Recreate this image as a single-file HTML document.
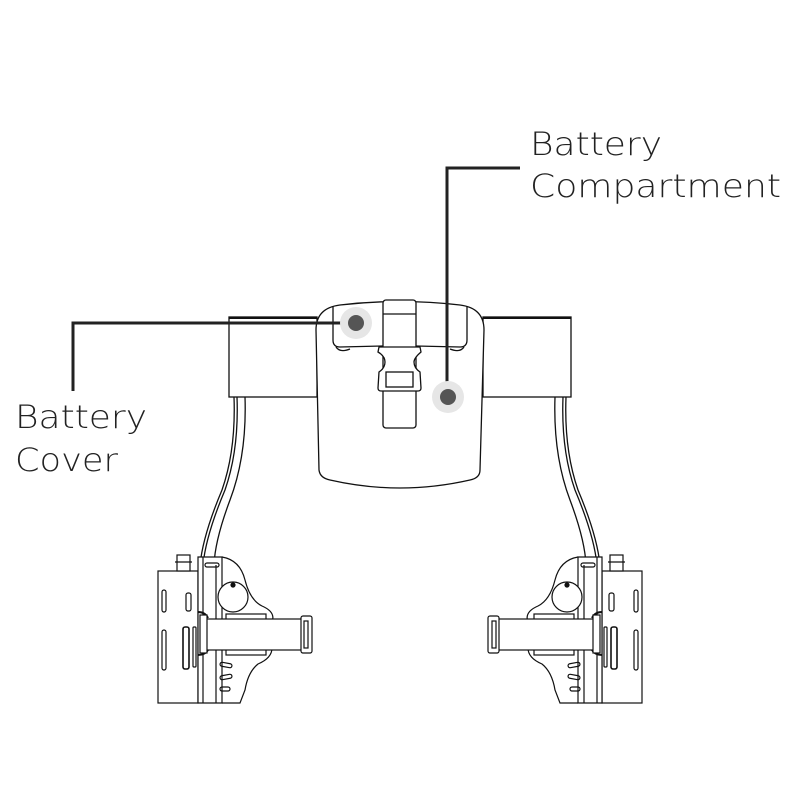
<!DOCTYPE html>
<html><head><meta charset="utf-8"><style>
html,body{margin:0;padding:0;background:#fff;}
svg{display:block}
text{font-family:"DejaVu Sans","Liberation Sans",sans-serif;font-weight:200;fill:#222;font-size:32px}
</style></head><body>
<svg width="800" height="800" viewBox="0 0 800 800" xmlns="http://www.w3.org/2000/svg">
<g fill="none" stroke="#111" stroke-width="1.3">
  <!-- belt side boxes -->
  <rect x="229" y="317" width="88" height="80" fill="#fff"/>
  <rect x="483" y="317" width="88" height="80" fill="#fff"/>
  <line x1="229" y1="318" x2="317" y2="318" stroke-width="2"/>
  <line x1="483" y1="318" x2="571" y2="318" stroke-width="2"/>
  <!-- cover -->
  <path d="M316,330 Q316,308 340,305 Q400,298 460,305 Q484,308 484,330 L480,470 Q480,478 470,480 Q400,496 330,480 Q320,478 319,470 Z" fill="#fff"/>
  <path d="M333,306 L333,340 Q333,347 340,347 L383,346 M416,346 L460,347 Q467,347 467,340 L467,306"/>
  <path d="M336,347 Q340,353 350,349 M464,347 Q460,353 450,349"/>
  <!-- strap -->
  <rect x="383" y="300" width="33" height="128" rx="3" fill="#fff"/>
  <line x1="383" y1="314" x2="416" y2="314"/>
  <path d="M379,347 L420,347 L421,352 Q414,358 414,362 Q414,368 420,372 L421,388 Q421,391 418,391 L381,391 Q378,391 378,388 L379,372 Q385,368 385,362 Q385,356 378,352 Z" fill="#fff"/>
  <rect x="386" y="372" width="27" height="15"/>
  <!-- legs left -->
  <path d="M234,397 Q236,450 222,490 Q203,535 200,565"/>
  <path d="M237,397 Q239,450 225,490 Q206,535 203,565"/>
  <path d="M245,397 Q247,455 230,500 Q215,540 214,565"/>
  <!-- legs right -->
  <path d="M566,397 Q564,450 578,490 Q597,535 600,565"/>
  <path d="M563,397 Q561,450 575,490 Q594,535 597,565"/>
  <path d="M555,397 Q553,455 570,500 Q585,540 586,565"/>
</g>
<!-- modules -->
<g id="mod" fill="none" stroke="#111" stroke-width="1.2">
  <rect x="158" y="571" width="40" height="132" fill="#fff"/>
  <rect x="177" y="555" width="13" height="16" fill="#fff"/>
  <line x1="175" y1="562" x2="192" y2="562"/>
  <rect x="162" y="590" width="4" height="22" rx="2"/>
  <rect x="162" y="630" width="4" height="40" rx="2"/>
  <rect x="186" y="593" width="5" height="18" rx="2"/>
  <rect x="183" y="627" width="6" height="42" rx="2" stroke-width="1.6"/>
  <rect x="193" y="627" width="3" height="40" rx="1"/>
  <path d="M198,557 L222,557 L222,703 L198,703 Z" fill="#fff"/>
  <path d="M203,557 L203,703 M216,565 L216,703"/>
  <rect x="205" y="563" width="14" height="4" rx="2"/>
  <path d="M222,557 Q240,560 245,580 Q250,600 262,606 Q276,612 272,622 L272,648 Q272,658 258,664 Q248,672 245,690 L240,703 L222,703"/>
  <circle cx="233" cy="597" r="15" fill="#fff"/>
  <circle cx="233" cy="585" r="2" fill="#111"/>
  <rect x="220" y="663" width="12" height="4" rx="2" transform="rotate(10 226 665)"/>
  <rect x="220" y="675" width="12" height="4" rx="2" transform="rotate(-10 226 677)"/>
  <rect x="220" y="687" width="10" height="4" rx="2"/>
  <rect x="226" y="614" width="40" height="6" fill="#fff"/>
  <rect x="226" y="649" width="40" height="6" fill="#fff"/>
  <path d="M198,612 Q205,612 208,618 M198,655 Q205,655 208,650" stroke-width="2"/>
  <rect x="206" y="619" width="98" height="31" fill="#fff"/>
  <rect x="301" y="616" width="11" height="37" rx="2" fill="#fff"/>
  <rect x="304" y="621" width="4" height="27"/>
  <rect x="200" y="615" width="7" height="38" fill="#fff"/>
</g>
<use href="#mod" transform="translate(800,0) scale(-1,1)"/>
<!-- leaders -->
<g fill="none" stroke="#222" stroke-width="3">
  <path d="M350,323 L73,323 L73,391"/>
  <path d="M447,397 L447,168 L520,168"/>
</g>
<circle cx="356" cy="323" r="16" fill="#e6e6e6"/>
<circle cx="356" cy="323" r="8" fill="#555"/>
<circle cx="448" cy="397" r="16" fill="#e6e6e6"/>
<circle cx="448" cy="397" r="8" fill="#555"/>
<text x="530" y="155" textLength="132" lengthAdjust="spacingAndGlyphs">Battery</text>
<text x="530" y="197" textLength="251" lengthAdjust="spacingAndGlyphs">Compartment</text>
<text x="15" y="428" textLength="132" lengthAdjust="spacingAndGlyphs">Battery</text>
<text x="15" y="471" textLength="103" lengthAdjust="spacingAndGlyphs">Cover</text>
</svg>
</body></html>
